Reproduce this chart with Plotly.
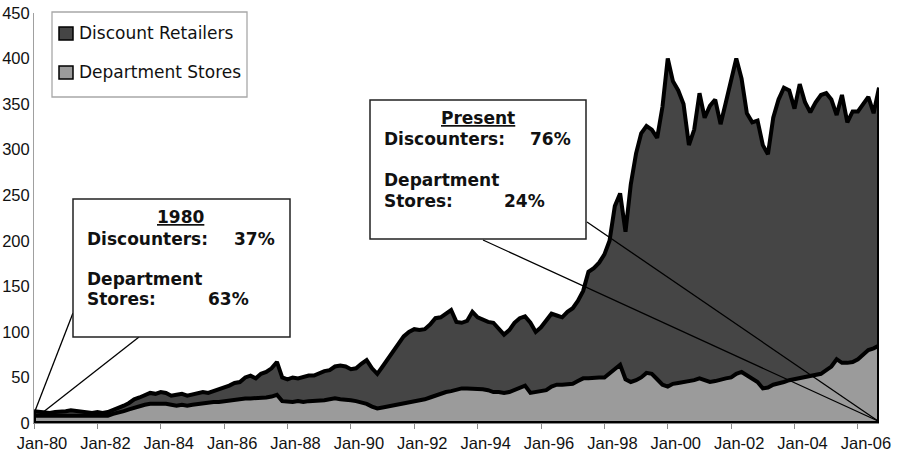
import pandas as pd
import plotly.graph_objects as go

# Bi-monthly observations, Jan 1980 through Sep 2006
dates = pd.date_range("1980-01-01", "2006-09-01", freq="2MS")

# Department store values (bottom layer)
dept_stores = [
    8, 8, 7, 7, 7, 7,          # 1980
    8, 8, 8, 7, 7, 7,          # 1981
    7, 7, 8, 10, 11, 13,       # 1982
    15, 17, 19, 20, 21, 21,    # 1983
    22, 21, 20, 19, 20, 19,    # 1984
    20, 21, 22, 22, 23, 23,    # 1985
    24, 25, 25, 26, 27, 27,    # 1986
    27, 28, 28, 29, 31, 24,    # 1987
    23, 23, 24, 23, 24, 24,    # 1988
    25, 25, 26, 27, 26, 26,    # 1989
    25, 24, 23, 21, 18, 16,    # 1990
    17, 18, 19, 20, 21, 22,    # 1991
    23, 25, 26, 28, 30, 33,    # 1992
    34, 35, 37, 38, 38, 38,    # 1993
    37, 37, 36, 34, 34, 33,    # 1994
    34, 36, 38, 41, 33, 34,    # 1995
    34, 36, 40, 42, 42, 42,    # 1996
    43, 46, 49, 49, 50, 50,    # 1997
    50, 55, 60, 64, 48, 45,    # 1998
    47, 50, 55, 54, 48, 42,    # 1999
    40, 43, 44, 45, 45, 47,    # 2000
    49, 47, 45, 46, 48, 49,    # 2001
    50, 54, 56, 52, 49, 45,    # 2002
    38, 39, 42, 43, 45, 47,    # 2003
    48, 49, 50, 51, 53, 54,    # 2004
    58, 62, 70, 66, 66, 67,    # 2005
    70, 75, 80, 82, 85,        # 2006
]

# Discount retailer values (stacked on top)
discount_retailers = [
    5, 4, 5, 4, 5, 5,              # 1980
    5, 6, 5, 5, 5, 4,              # 1981
    5, 4, 4, 4, 5, 6,              # 1982
    7, 9, 9, 11, 12, 11,           # 1983
    12, 12, 10, 12, 12, 11,        # 1984
    11, 12, 12, 11, 12, 13,        # 1985
    14, 16, 19, 19, 23, 25,        # 1986
    22, 26, 28, 31, 36, 26,        # 1987
    25, 27, 25, 28, 28, 28,        # 1988
    30, 32, 32, 35, 37, 36,        # 1989
    34, 36, 42, 48, 42, 38,        # 1990
    45, 52, 61, 68, 74, 78,        # 1991
    80, 77, 77, 80, 85, 83,        # 1992
    86, 89, 74, 72, 74, 84,        # 1993
    79, 76, 75, 76, 70, 64,        # 1994
    68, 74, 77, 76, 77, 66,        # 1995
    71, 76, 80, 76, 74, 80,        # 1996
    83, 88, 96, 117, 120, 126,     # 1997
    135, 145, 178, 188, 162, 217,  # 1998
    249, 268, 271, 268, 265, 305,  # 1999
    360, 332, 321, 305, 260, 275,  # 2000
    313, 288, 303, 309, 280, 303,  # 2001
    325, 346, 322, 288, 281, 287,  # 2002
    267, 256, 293, 312, 323, 318,  # 2003
    297, 323, 302, 290, 299, 306,  # 2004
    304, 293, 268, 294, 264, 275,  # 2005
    272, 275, 278, 258, 283,       # 2006
]

assert len(dept_stores) == len(dates) == len(discount_retailers)

tick_years = list(range(1980, 2007, 2))
tick_vals = [f"{y}-01-01" for y in tick_years]
tick_text = [f"Jan-{y % 100:02d}" for y in tick_years]

series_names = ["Department Stores", "Discount Retailers"]
fill_colors = ["#9b9b9b", "#454545"]

# Plot-area geometry in pixels, used to place boxes and callouts
L, R, T, B = 34, 879, 13, 423
W_FIG, H_FIG = 897, 452


def px(xp):
    return (xp - L) / (R - L)


def py(yp):
    return (B - yp) / (B - T)


fig = go.Figure()
for name, vals, color in zip(series_names, [dept_stores, discount_retailers], fill_colors):
    fig.add_trace(go.Scatter(
        x=dates, y=vals, name=name, stackgroup="one", mode="lines",
        line=dict(color="black", width=4), fillcolor=color,
        showlegend=False, hoverinfo="x+y",
    ))

totals = [a + b for a, b in zip(dept_stores, discount_retailers)]

shapes = []
# Outline of the stacked area along the base and the two ends
shapes.append(dict(type="line", xref="x", yref="y", x0=dates[0], x1=dates[-1], y0=0, y1=0,
                   line=dict(color="black", width=4), layer="above"))
shapes.append(dict(type="line", xref="x", yref="y", x0=dates[-1], x1=dates[-1], y0=0, y1=totals[-1],
                   line=dict(color="black", width=4), layer="above"))
shapes.append(dict(type="line", xref="x", yref="y", x0=dates[0], x1=dates[0], y0=0, y1=totals[0],
                   line=dict(color="black", width=4), layer="above"))

# Callout leader lines
for (x0, y0, x1, y1) in [(73, 313, 35, 411), (139, 337, 42, 413),
                         (587, 222, 878, 421), (483, 240, 878, 421)]:
    shapes.append(dict(type="line", xref="paper", yref="paper",
                       x0=px(x0), y0=py(y0), x1=px(x1), y1=py(y1),
                       line=dict(color="black", width=1.3), layer="above"))

# Callout boxes
for (x0, y0, x1, y1) in [(73, 199, 290, 337), (370, 100, 586, 239)]:
    shapes.append(dict(type="rect", xref="paper", yref="paper",
                       x0=px(x0), y0=py(y1), x1=px(x1), y1=py(y0),
                       line=dict(color="#222222", width=1.5), fillcolor="white", layer="above"))

# Legend frame and swatches
shapes.append(dict(type="rect", xref="paper", yref="paper",
                   x0=px(52), y0=py(97), x1=px(247), y1=py(12),
                   line=dict(color="#a8a8a8", width=1.3), fillcolor="white", layer="above"))
for (y0, y1, color) in [(27, 40, fill_colors[1]), (66, 79, fill_colors[0])]:
    shapes.append(dict(type="rect", xref="paper", yref="paper",
                       x0=px(59), y0=py(y1), x1=px(73), y1=py(y0),
                       line=dict(color="black", width=1.5), fillcolor=color, layer="above"))

annotations = []


def add_text(text, xp, yp, anchor="left", bold=True, size=17):
    annotations.append(dict(
        text=text, xref="paper", yref="paper", x=px(xp), y=py(yp),
        xanchor=anchor, yanchor="middle", showarrow=False,
        font=dict(family="DejaVu Sans", size=size, color="#111111",
                  weight="bold" if bold else "normal"),
    ))


# Legend labels
add_text("Discount Retailers", 77, 33, bold=False)
add_text("Department Stores", 77, 72, bold=False)

# 1980 box
add_text("<u>1980</u>", 180, 217, anchor="center")
add_text("Discounters:", 85, 239)
add_text("37%", 277, 239, anchor="right")
add_text("Department", 85, 279)
add_text("Stores:", 85, 299)
add_text("63%", 251, 299, anchor="right")

# Present box
add_text("<u>Present</u>", 478, 118, anchor="center")
add_text("Discounters:", 382, 139)
add_text("76%", 573, 139, anchor="right")
add_text("Department", 382, 180)
add_text("Stores:", 382, 201)
add_text("24%", 547, 201, anchor="right")

tick_font = dict(family="Arial, Liberation Sans", size=16.5, color="#111111")

fig.update_layout(
    width=W_FIG, height=H_FIG,
    margin=dict(l=L, r=W_FIG - R, t=T, b=H_FIG - B, pad=0, autoexpand=False),
    paper_bgcolor="white", plot_bgcolor="white",
    shapes=shapes, annotations=annotations,
    showlegend=False,
    xaxis=dict(
        type="date", range=[dates[0], dates[-1]], automargin=False,
        tickmode="array", tickvals=tick_vals, ticktext=tick_text,
        ticks="outside", ticklen=5, tickcolor="#8a8a8a", tickwidth=1,
        showline=True, linecolor="#8a8a8a", linewidth=1,
        showgrid=False, zeroline=False, tickfont=tick_font,
        ticklabelshift=8, ticklabelstandoff=0,
    ),
    yaxis=dict(
        range=[0, 450], tick0=0, dtick=50, automargin=False,
        showline=True, linecolor="#a0a0a0", linewidth=1,
        ticks="", showgrid=False, zeroline=False, tickfont=tick_font,
    ),
)

fig.write_html("out.html")
